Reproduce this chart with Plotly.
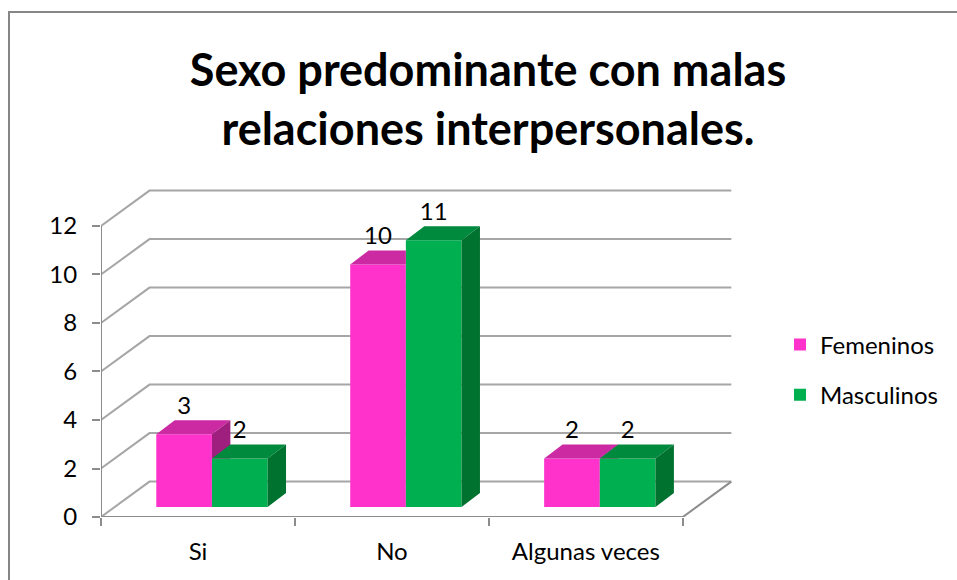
import plotly.graph_objects as go

# ---------------- data ----------------
categories = ["Si", "No", "Algunas veces"]
femeninos = [3, 10, 2]
masculinos = [2, 11, 2]
series_names = ["Femeninos", "Masculinos"]
y_ticks = [0, 2, 4, 6, 8, 10, 12]
title_text = "Sexo predominante con malas<br>relaciones interpersonales."

# ---------------- style / geometry ----------------
PINK, PINK_TOP, PINK_SIDE = "#FF33CC", "#CC2AA3", "#9E1F7E"
GREEN, GREEN_TOP, GREEN_SIDE = "#00B050", "#008A3E", "#00722F"
GRID = "#A6A6A6"
AXIS = "#8C8C8C"
FONT = "Lato, Carlito, Calibri, sans-serif"
FS = 24

BASE = 0.41        # bars sit slightly back on the floor
BAR_W = 0.287
SHIFT = 0.072      # group centre offset (depth shift)
BDX, BDY = 0.095, 0.58   # bar depth
WDX, WDY = 0.25, 1.46    # wall depth
X_MIN, X_MAX = -0.5, 2.8
Y_MAX = 13.69
ML, MR, MT, MB = 101, 216, 185, 63
W, H = 957, 580
PW, PH = W - ML - MR, H - MT - MB


def clip_half(poly, axis, c, keep_le):
    out = []
    n = len(poly)
    for i in range(n):
        cur, prev = poly[i], poly[i - 1]
        cin = cur[axis] <= c + 1e-12 if keep_le else cur[axis] >= c - 1e-12
        pin = prev[axis] <= c + 1e-12 if keep_le else prev[axis] >= c - 1e-12

        def inter():
            t = (c - prev[axis]) / (cur[axis] - prev[axis])
            return (prev[0] + t * (cur[0] - prev[0]), prev[1] + t * (cur[1] - prev[1]))
        if cin:
            if not pin:
                out.append(inter())
            out.append(cur)
        elif pin:
            out.append(inter())
    return out


def area(poly):
    if len(poly) < 3:
        return 0.0
    s = 0.0
    for i in range(len(poly)):
        x1, y1 = poly[i - 1]
        x2, y2 = poly[i]
        s += x1 * y2 - x2 * y1
    return abs(s) / 2


def top_face(xl, xr, t):
    return [(xl, t), (xr, t), (xr + BDX, t + BDY), (xl + BDX, t + BDY)]


def side_face(xr, t):
    return [(xr, BASE), (xr, t), (xr + BDX, t + BDY), (xr + BDX, BASE + BDY)]


def to_xy(polys):
    xs, ys = [], []
    for p in polys:
        if area(p) < 1e-6:
            continue
        xs += [q[0] for q in p] + [p[0][0], None]
        ys += [q[1] for q in p] + [p[0][1], None]
    return xs, ys


pink_top, pink_side, green_top, green_side = [], [], [], []
label_x, label_y, label_t = [], [], []
for i, (vf, vm) in enumerate(zip(femeninos, masculinos)):
    xc = i + SHIFT
    tf, tm = BASE + vf, BASE + vm
    for face, dest in ((top_face(xc - BAR_W, xc, tf), pink_top), (side_face(xc, tf), pink_side)):
        dest.append(clip_half(face, 0, xc, True))
        dest.append(clip_half(face, 1, tm, False))
    green_top.append(top_face(xc, xc + BAR_W, tm))
    green_side.append(side_face(xc + BAR_W, tm))
    label_x += [xc - BAR_W / 2, xc + BAR_W / 2]
    label_y += [tf + BDY, tm + BDY]
    label_t += [str(vf), str(vm)]

fig = go.Figure()

# front faces as bars
fig.add_trace(go.Bar(x=list(range(len(categories))), y=femeninos, base=BASE,
                     width=BAR_W, offset=SHIFT - BAR_W, marker=dict(color=PINK, line=dict(width=0)),
                     name=series_names[0], legendgroup="f"))
fig.add_trace(go.Bar(x=list(range(len(categories))), y=masculinos, base=BASE,
                     width=BAR_W, offset=SHIFT, marker=dict(color=GREEN, line=dict(width=0)),
                     name=series_names[1], legendgroup="m"))

for polys, col in ((pink_top, PINK_TOP), (pink_side, PINK_SIDE), (green_top, GREEN_TOP), (green_side, GREEN_SIDE)):
    xs, ys = to_xy(polys)
    fig.add_trace(go.Scatter(x=xs, y=ys, fill="toself", fillcolor=col, mode="lines",
                             line=dict(width=0, color=col), showlegend=False, hoverinfo="skip"))

fig.add_trace(go.Scatter(x=label_x, y=label_y, text=label_t, mode="text", textposition="top center",
                         textfont=dict(family=FONT, size=FS, color="black"),
                         showlegend=False, hoverinfo="skip"))

# walls / gridlines as shapes below the bars
shapes = []
for v in y_ticks:
    shapes.append(dict(type="path", xref="x", yref="y", layer="below",
                       path=f"M {X_MIN},{v} L {X_MIN + WDX},{v + WDY} L {2.5 + WDX},{v + WDY}",
                       line=dict(color=GRID, width=2)))
# floor front and right edge, y axis line
shapes.append(dict(type="path", xref="x", yref="y", layer="below",
                   path=f"M {X_MIN},{0} L 2.5,0 L {2.5 + WDX},{WDY}", line=dict(color=AXIS, width=2)))
shapes.append(dict(type="line", xref="x", yref="y", layer="below",
                   x0=X_MIN, x1=X_MIN, y0=0, y1=max(y_ticks), line=dict(color=AXIS, width=2)))
# outer chart border
shapes.append(dict(type="rect", xref="paper", yref="paper",
                   x0=(9 - ML) / PW, x1=(W + 5 - ML) / PW,
                   y0=(H - MB - (H + 5)) / PH, y1=(H - MB - 12) / PH,
                   line=dict(color="#868686", width=2), fillcolor="rgba(0,0,0,0)", layer="below"))

fig.update_layout(
    width=W, height=H,
    margin=dict(l=ML, r=MR, t=MT, b=MB, autoexpand=False),
    paper_bgcolor="white", plot_bgcolor="rgba(0,0,0,0)",
    barmode="overlay",
    font=dict(family=FONT, size=FS, color="black"),
    title=dict(text="<b>" + title_text + "</b>", x=488 / W, xanchor="center",
               y=1 - 86 / H, yanchor="middle",
               font=dict(family=FONT, size=45, color="black")),
    shapes=shapes,
    showlegend=True,
    legend=dict(x=(780 - ML) / PW, xanchor="left", y=(H - MB - 370) / PH, yanchor="middle",
                font=dict(family=FONT, size=FS, color="black"), tracegroupgap=16,
                traceorder="grouped", bgcolor="rgba(0,0,0,0)"),
    xaxis=dict(range=[X_MIN, X_MAX], tickmode="array", tickvals=list(range(len(categories))),
               ticktext=categories, ticks="", showgrid=False, zeroline=False, showline=False,
               ticklabelstandoff=18, fixedrange=True,
               minor=dict(tickmode="array", tickvals=[-0.5, 0.5, 1.5, 2.5], ticks="outside",
                          ticklen=8, tickwidth=2, tickcolor=AXIS, showgrid=False)),
    yaxis=dict(range=[0, Y_MAX], tickmode="array", tickvals=y_ticks, ticks="outside",
               ticklen=8, tickwidth=2, tickcolor=AXIS, showgrid=False, zeroline=False,
               showline=False, ticklabelstandoff=10, fixedrange=True),
)

fig.write_html("out.html", config={"displayModeBar": False},
               post_script="document.body.style.margin='0px';document.body.style.overflow='hidden';")
